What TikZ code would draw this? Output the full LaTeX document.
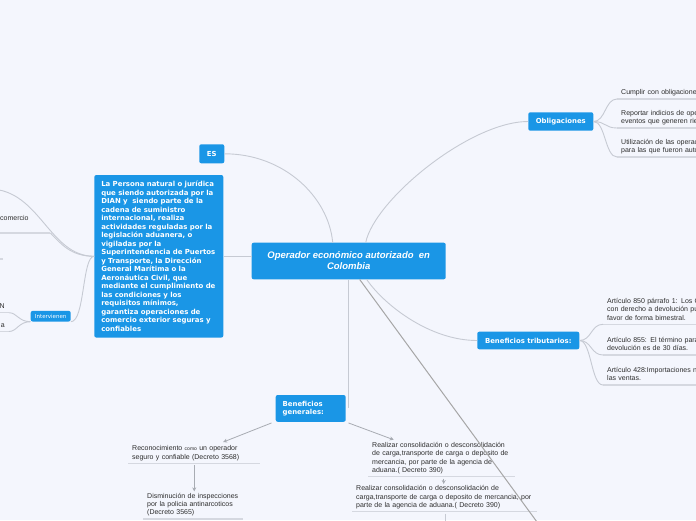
\documentclass[tikz,border=0pt]{standalone}
\usepackage{fontspec}
\setmainfont{Liberation Sans}
\newfontfamily\verdana{DejaVu Sans}
\usetikzlibrary{calc}
\usetikzlibrary{arrows.meta}
\definecolor{fondo}{HTML}{F4F6FD}
\definecolor{azul}{HTML}{1A96E6}
\definecolor{linea}{HTML}{C6CAD3}
\definecolor{subraya}{HTML}{D5D8E0}
\definecolor{texto}{HTML}{2E2E2E}

\begin{document}
\begin{tikzpicture}[x=1pt,y=-1pt] %% mind map
		\tikzstyle{tema}=[fill=azul,rounded corners=2pt,text=white,inner sep=0pt,font=\verdana\bfseries\fontsize{6.9}{8.3}\selectfont]
		\tikzstyle{sub}=[inner xsep=4pt,inner ysep=1.5pt,align=left,text=texto,font=\fontsize{7}{8.3}\selectfont,execute at end node=\strut]
		\tikzstyle{rama}=[draw=linea,line width=0.9pt]
		\tikzstyle{raya}=[draw=subraya,line width=1.1pt]
		\tikzstyle{flecha}=[draw=linea!85!black,line width=0.8pt,-{Stealth[length=4pt,width=4pt]}]
		%% page
		\fill[fondo] (0,0) rectangle (696,520);
		\useasboundingbox (0,0) rectangle (696,520);
		\clip (0,0) rectangle (696,520);
		%% topics
		\node[tema,minimum width=194,minimum height=36.6,align=center,font=\fontsize{9.5}{11}\selectfont\bfseries\itshape] (central) at (348.7,261) {Operador económico autorizado~ en\\Colombia};
		\node[tema,minimum width=25,minimum height=19] (es) at (211.8,153.8) {ES};
		\node[tema,minimum width=129,minimum height=162.5,text width=115,align=left,font=\verdana\bfseries\fontsize{6.95}{8.5}\selectfont] (definicion) at (158.8,256.3) {La Persona natural o jurídica\\que siendo autorizada por la\\DIAN y~ siendo parte de la\\cadena de suministro\\internacional, realiza\\actividades reguladas por la\\legislación aduanera, o\\vigiladas por la\\Superintendencia de Puertos\\y Transporte, la Dirección\\General Marítima o la\\Aeronáutica Civil, que\\mediante el cumplimiento de\\las condiciones y los\\requisitos mínimos,\\garantiza operaciones de\\comercio exterior seguras y\\confiables};
		\node[tema,minimum width=40,minimum height=10.6,font=\verdana\fontsize{5.5}{6}\selectfont] (intervienen) at (50.7,316.2) {Intervienen};
		\node[tema,minimum width=65,minimum height=18.4] (obligaciones) at (560.8,121.5) {Obligaciones};
		\node[tema,minimum width=102,minimum height=17.6] (tributarios) at (528.3,340.5) {Beneficios tributarios:};
		\node[tema,minimum width=70,minimum height=26.7,text width=56,align=left] (generales) at (310.7,408.4) {Beneficios\\generales:};
		%% subtopics
		\node[sub,anchor=south west,text width=120] (ob1) at (617,99) {Cumplir con obligaciones};
		\node[sub,anchor=south west,text width=120] (ob2) at (617,128) {Reportar indicios de ope\\eventos que generen rie};
		\node[sub,anchor=south west,text width=120] (ob3) at (617,157) {Utilización de las operac\\para las que fueron auto};
		\node[sub,anchor=south west,text width=120] (bt1) at (603,324.3) {Artículo 850 párrafo 1: Los C\\con derecho a devolución pu\\favor de forma bimestral.};
		\node[sub,anchor=south west,text width=120] (bt2) at (603,355) {Artículo 855: El término para\\devolución es de 30 días.};
		\node[sub,anchor=south west,text width=120] (bt3) at (603,385) {Artículo 428:Importaciones n\\las ventas.};
		\node[sub,anchor=south west,text width=124] (g1) at (128,463.3) {Reconocimiento {\fontsize{5}{6}\selectfont como} un operador\\seguro y confiable (Decreto 3568)};
		\node[sub,anchor=south west,text width=92] (g2) at (143,519) {Disminución de inspecciones\\por la policia antinarcoticos\\(Decreto 3565)};
		\node[sub,anchor=south west,text width=139] (g3) at (368,476.7) {Realizar consolidación o desconsolidación\\de carga,transporte de carga o deposito de\\mercancia, por parte de la agencia de\\aduana.( Decreto 390)};
		\node[sub,anchor=south west,text width=177] (g4) at (352,511.7) {Realizar consolidación o desconsolidación de\\carga,transporte de carga o deposito de mercancia, por\\parte de la agencia de aduana.( Decreto 390)};
		\node[sub,anchor=south west,text width=46,inner ysep=10pt] (iz1) at (-4,233) {comercio};
		\node[sub,anchor=south east,text width=30,align=right] (n1) at (9,312.7) {N};
		\node[sub,anchor=south east,text width=30,align=right] (n2) at (9,331.5) {a};
		\foreach \n in {ob1,ob2,ob3,bt1,bt2,bt3,g1,g2,g3,g4,iz1,n1,n2}
			\draw[raya] (\n.south west) -- (\n.south east);
		\draw[raya] (-5,259) -- (3,259);
		%% main branches
		\draw[rama] ($(central.north)+(-16,0)$) .. controls +(-4,-45) and +(60,0) .. (es.east);
		\draw[rama] ($(central.north)+(17,0)$) .. controls +(9,-43) and +(-58,0) .. (obligaciones.west);
		\draw[rama] ($(central.south)+(18,0)$) .. controls +(18,26) and +(-47,0) .. (tributarios.west);
		\draw[rama] (central.south) -- (central.south |- generales.east);
		\draw[rama] (definicion.east) -- (definicion.east -| central.west);
		\coordinate (abajo) at (537,522);
		\draw[draw=gray!70,line width=1pt] ($(central.south)+(11,0)$) -- (abajo);
		%% right leaves
		\foreach \n in {ob1,ob2,ob3}
			\draw[rama] (obligaciones.east) .. controls +(12,0) and +(-12,0) .. (\n.south west);
		\foreach \n in {bt1,bt2,bt3}
			\draw[rama] (tributarios.east) .. controls +(12,0) and +(-12,0) .. (\n.south west);
		%% left leaves
		\coordinate (arriba) at (-10,189);
		\draw[rama] (definicion.west) .. controls +(-45,0) and +(50,1) .. (arriba);
		\draw[rama] (definicion.west) .. controls +(-24,0) and +(10,10) .. (iz1.south east);
		\draw[rama] (intervienen.south east) .. controls +(14,0) and +(-12,0) .. (definicion.west);
		\draw[rama] (intervienen.south west) .. controls +(-12,0) and +(8,0) .. (n1.south east);
		\draw[rama] (intervienen.south west) .. controls +(-12,0) and +(8,0) .. (n2.south east);
		%% arrows
		\draw[flecha] ($(generales.south west)+(-4,1)$) -- ($(g1.north)+(29,-2)$);
		\draw[flecha] ($(g1.south)+(0,2)$) -- (g2.north -| g1.south);
		\draw[flecha] ($(generales.south east)+(2.6,1)$) -- ($(g3.north)+(-48,-1)$);
		\coordinate (g3b) at ($(g3.south)+(2,2)$);
		\draw[flecha] (g3b) -- (g3b |- g4.north);
		\coordinate (g4b) at ($(g4.south)+(0.5,2)$);
		\draw[rama] (g4b) -- (g4b |- abajo);
	\end{tikzpicture}
\end{document}
